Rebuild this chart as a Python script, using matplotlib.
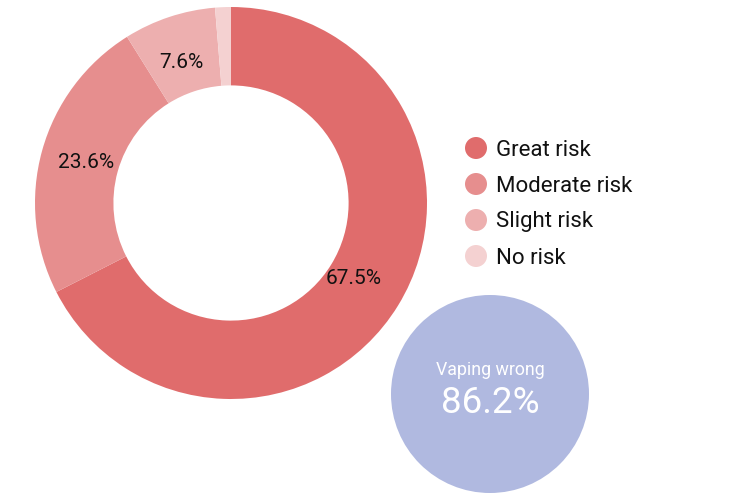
import matplotlib
matplotlib.use("Agg")
import matplotlib.pyplot as plt
from matplotlib.patches import Circle
import numpy as np

plt.rcParams['font.family'] = ['Roboto', 'DejaVu Sans']

categories = ["Great risk", "Moderate risk", "Slight risk", "No risk"]
values = [67.5, 23.6, 7.6, 1.3]
colors = ["#e06c6c", "#e68e8e", "#edafaf", "#f4d1d1"]
show_label = [True, True, True, False]
bubble_label = "Vaping wrong"
bubble_value = 86.2
bubble_color = "#b0b9e0"

W, H = 754, 496
fig = plt.figure(figsize=(W / 100, H / 100), dpi=100)
ax = fig.add_axes([0, 0, 1, 1])

cx, cy, R = 231, H - 203, 196
wedges, _ = ax.pie(values, colors=colors, startangle=90, counterclock=False,
                   center=(cx, cy), radius=R, wedgeprops=dict(width=R * 0.4, linewidth=0),
                   frame=True)
ax.set_xlim(0, W)
ax.set_ylim(0, H)
ax.set_aspect('equal')
ax.axis('off')

cum = 0
for v, show in zip(values, show_label):
    mid = 90 - (cum + v / 2) / sum(values) * 360
    cum += v
    if not show:
        continue
    r = R * 0.75
    ax.text(cx + r * np.cos(np.radians(mid)) - 3, cy + r * np.sin(np.radians(mid)) + 1,
            f"{v:.1f}%", ha='center', va='center', fontsize=15, color='#111111')

# legend
lx, ly0, dy = 476, H - 148, 36
for i, (c, col) in enumerate(zip(categories, colors)):
    y = ly0 - i * dy
    ax.add_patch(Circle((lx, y), 11, color=col, lw=0))
    ax.text(lx + 20, y - 2, c, ha='left', va='center', fontsize=16, color='#111111')

# bubble
bx, by, br = 490, H - 394, 99
ax.add_patch(Circle((bx, by), br, color=bubble_color, lw=0))
ax.text(bx, by + 24, bubble_label, ha='center', va='center', fontsize=12.8, color='white')
ax.text(bx, by - 9, f"{bubble_value:.1f}%", ha='center', va='center', fontsize=26.5, color='white')

fig.savefig("out.png", dpi=100)
